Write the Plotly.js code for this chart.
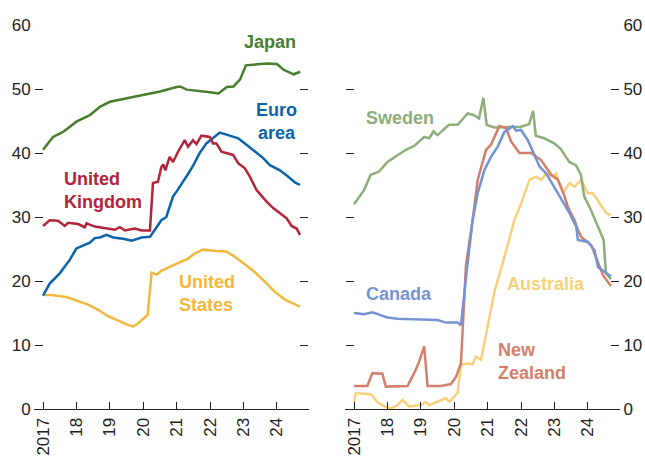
<!DOCTYPE html>
<html><head><meta charset="utf-8">
<script src="https://cdn.plot.ly/plotly-3.0.1.min.js"></script>
<style>html,body{margin:0;padding:0;background:#fff}#c{width:645px;height:457px}</style>
</head><body><div id="c"></div>
<script>
// Left panel
const japanX = [2017.00,2017.30,2017.60,2018.00,2018.40,2018.70,2019.00,2019.50,2020.00,2020.50,2021.00,2021.10,2021.30,2021.70,2022.00,2022.25,2022.50,2022.70,2022.90,2023.07,2023.40,2023.70,2024.00,2024.20,2024.50,2024.70];
const japanY = [40.5,42.5,43.3,44.9,45.9,47.2,48.0,48.5,49.1,49.6,50.3,50.4,49.9,49.7,49.5,49.3,50.3,50.4,51.5,53.7,53.9,54.0,53.9,53.0,52.3,52.7];

const ukX = [2017.00,2017.20,2017.45,2017.65,2017.75,2018.05,2018.25,2018.30,2018.55,2018.95,2019.15,2019.30,2019.45,2019.75,2019.95,2020.20,2020.29,2020.44,2020.54,2020.60,2020.66,2020.79,2020.89,2021.04,2021.24,2021.34,2021.49,2021.59,2021.74,2021.99,2022.09,2022.19,2022.34,2022.69,2022.84,2023.04,2023.19,2023.39,2023.59,2023.69,2023.89,2024.09,2024.29,2024.44,2024.59,2024.69];
const ukY = [28.6,29.5,29.4,28.6,29.1,28.9,28.4,29.0,28.5,28.2,28.0,28.4,27.9,28.2,27.9,27.9,35.3,35.5,37.8,38.2,37.3,39.4,38.6,40.2,42.0,41.0,42.0,41.4,42.7,42.5,41.5,41.5,40.2,39.7,38.4,37.6,36.3,34.2,32.9,32.4,31.4,30.6,29.8,28.6,28.2,27.2];

const euroX = [2017.00,2017.20,2017.50,2017.80,2018.00,2018.20,2018.40,2018.55,2018.70,2018.90,2019.10,2019.40,2019.65,2019.95,2020.20,2020.35,2020.54,2020.69,2020.79,2020.89,2021.00,2021.20,2021.35,2021.50,2021.69,2021.89,2022.09,2022.29,2022.54,2022.84,2023.09,2023.34,2023.59,2023.79,2024.09,2024.34,2024.54,2024.69];
const euroY = [17.7,19.6,21.2,23.3,25.1,25.5,26.0,26.7,26.8,27.2,26.8,26.6,26.3,26.8,26.9,28.0,29.5,30.0,31.8,33.2,34.0,35.5,36.8,38.1,40.0,41.5,42.3,43.2,42.8,42.3,41.3,40.2,39.2,38.1,37.3,36.3,35.4,35.0];

const usX = [2017.00,2017.25,2017.70,2017.95,2018.35,2018.65,2018.95,2019.25,2019.55,2019.70,2019.85,2020.13,2020.25,2020.40,2020.54,2020.79,2021.04,2021.34,2021.54,2021.79,2022.19,2022.49,2022.74,2022.99,2023.29,2023.64,2023.94,2024.24,2024.54,2024.69];
const usY = [17.8,17.8,17.5,17.0,16.3,15.5,14.5,13.8,13.1,12.9,13.4,14.7,21.3,21.0,21.6,22.2,22.8,23.5,24.3,24.9,24.7,24.6,23.8,22.8,21.6,19.9,18.3,17.1,16.3,16.0];

// Right panel
const swedenX = [2017.00,2017.30,2017.50,2017.75,2018.00,2018.30,2018.55,2018.80,2019.10,2019.25,2019.38,2019.50,2019.84,2020.10,2020.40,2020.59,2020.74,2020.87,2020.97,2021.19,2021.59,2021.99,2022.24,2022.36,2022.44,2022.69,2022.99,2023.19,2023.44,2023.64,2023.79,2023.89,2024.09,2024.29,2024.47,2024.54,2024.69];
const swedenY = [32.0,34.2,36.6,37.1,38.6,39.7,40.5,41.1,42.5,42.3,43.4,42.8,44.4,44.4,46.2,45.9,45.4,48.6,44.4,44.0,44.1,44.1,44.5,46.6,42.7,42.3,41.5,40.6,38.6,38.1,36.6,33.2,31.1,28.5,26.4,21.2,20.3];

const canadaX = [2017.00,2017.30,2017.55,2018.00,2018.30,2019.00,2019.50,2019.75,2020.10,2020.20,2020.30,2020.40,2020.55,2020.70,2020.90,2021.10,2021.30,2021.50,2021.75,2021.85,2022.00,2022.20,2022.40,2022.55,2022.75,2022.95,2023.05,2023.20,2023.45,2023.65,2023.70,2024.00,2024.20,2024.30,2024.50,2024.69];
const canadaY = [15.0,14.8,15.1,14.3,14.1,14.0,13.9,13.5,13.5,13.1,17.5,22.8,29.5,33.7,37.3,39.4,41.0,43.3,44.2,43.5,43.6,42.0,39.7,37.9,36.8,35.0,34.2,32.7,30.6,28.5,26.4,26.1,24.8,22.2,21.5,20.7];

const nzX = [2017.00,2017.40,2017.55,2017.85,2017.95,2018.60,2018.80,2018.95,2019.10,2019.20,2019.60,2019.90,2020.05,2020.20,2020.35,2020.55,2020.70,2020.95,2021.10,2021.35,2021.55,2021.70,2021.95,2022.30,2022.60,2022.90,2023.10,2023.25,2023.40,2023.60,2023.70,2023.80,2024.10,2024.30,2024.45,2024.69];
const nzY = [3.6,3.6,5.6,5.5,3.5,3.6,5.6,7.4,9.8,3.6,3.6,3.9,5.0,7.1,22.5,29.5,35.8,40.5,41.3,44.2,43.9,41.8,40.0,40.0,38.9,36.6,35.8,34.0,31.6,29.5,28.0,26.9,25.6,22.8,20.9,19.2];

const ausX = [2017.00,2017.05,2017.50,2017.70,2017.90,2018.10,2018.30,2018.45,2018.65,2019.00,2019.15,2019.25,2019.75,2019.85,2020.10,2020.20,2020.40,2020.55,2020.65,2020.80,2021.00,2021.20,2021.45,2021.65,2021.80,2022.00,2022.25,2022.45,2022.60,2022.75,2022.95,2023.05,2023.15,2023.25,2023.45,2023.60,2023.80,2024.00,2024.15,2024.35,2024.55,2024.69];
const ausY = [1.1,2.5,2.3,1.1,0.4,0.1,0.6,1.4,0.4,0.6,1.1,0.6,1.7,1.1,2.5,6.9,7.1,7.0,8.2,7.7,12.9,18.3,22.8,26.4,29.5,32.1,35.8,36.3,35.8,36.8,36.4,36.8,35.3,33.7,35.3,34.7,35.8,33.7,33.7,32.1,30.6,30.3];

const tickVals = [2017,2018,2019,2020,2021,2022,2023,2024];
const tickText = ['2017','18','19','20','21','22','23','24'];
const yTicks = [0,10,20,30,40,50,60];

const FONT = '"Liberation Sans", Arial, sans-serif';
const C = {japan:'#4a7e2f', uk:'#b1243a', euro:'#0a63ab', us:'#f2b73c', sweden:'#8ead7b', canada:'#7593d3', nz:'#d47f6c', aus:'#f8cf7a'};

function tr(x,y,color,xa,ya){return {x:x,y:y,type:'scatter',mode:'lines',line:{color:color,width:2.5},xaxis:xa,yaxis:ya,hoverinfo:'skip'};}

const data = [
  tr(usX,usY,C.us,'x','y'),
  tr(euroX,euroY,C.euro,'x','y'),
  tr(ukX,ukY,C.uk,'x','y'),
  tr(japanX,japanY,C.japan,'x','y'),
  tr(ausX,ausY,C.aus,'x2','y2'),
  tr(swedenX,swedenY,C.sweden,'x2','y2'),
  tr(nzX,nzY,C.nz,'x2','y2'),
  tr(canadaX,canadaY,C.canada,'x2','y2')
];

const xr = [2016.76, 2024.93];
function xax(domain,anchor){return {domain:domain,anchor:anchor,range:xr,tickvals:tickVals,ticktext:tickText,tickangle:-90,ticks:'inside',ticklen:7,tickwidth:1,tickcolor:'#222',ticklabelstandoff:1,showline:true,linecolor:'#222',linewidth:1,showgrid:false,zeroline:false,tickfont:{family:FONT,size:17,color:'#222'},fixedrange:true};}
function yax(side,anchor){return {domain:[0,1],range:[0,60],tickvals:yTicks,ticks:'inside',ticklen:8,tickwidth:1,tickcolor:'#222',mirror:'ticks',showline:true,linecolor:'rgba(0,0,0,0)',showgrid:false,zeroline:false,side:side,anchor:anchor,tickfont:{family:FONT,size:17,color:'#222'},fixedrange:true};}

function ann(text,x,y,color,xref,yref,xanchor,align){return {text:'<b>'+text+'</b>',x:x,y:y,xref:xref,yref:yref,showarrow:false,xanchor:xanchor,yanchor:'middle',align:align,font:{family:FONT,size:18,color:color}};}

const layout = {
  width:645,height:457,
  margin:{l:0,r:0,t:25,b:48},
  paper_bgcolor:'#fff',plot_bgcolor:'#fff',
  showlegend:false,
  xaxis:xax([35/645,308/645],'y'),
  yaxis:yax('left','x'),
  xaxis2:xax([346/645,619/645],'y2'),
  yaxis2:yax('right','x2'),
  annotations:[
    ann('Japan',2023.79,57.3,C.japan,'x','y','center','center'),
    ann('Euro<br>area',2024.0,45.0,C.euro,'x','y','center','center'),
    ann('United<br>Kingdom',2017.56,34.1,C.uk,'x','y','left','left'),
    ann('United<br>States',2021.0,18.1,C.us,'x','y','left','left'),
    ann('Sweden',2017.30,45.5,C.sweden,'x2','y2','left','left'),
    ann('Canada',2017.30,18.0,C.canada,'x2','y2','left','left'),
    ann('Australia',2021.52,19.5,C.aus,'x2','y2','left','left'),
    ann('New<br>Zealand',2021.25,7.5,C.nz,'x2','y2','left','left')
  ]
};
Plotly.newPlot('c',data,layout,{staticPlot:true,displayModeBar:false});
</script></body></html>
